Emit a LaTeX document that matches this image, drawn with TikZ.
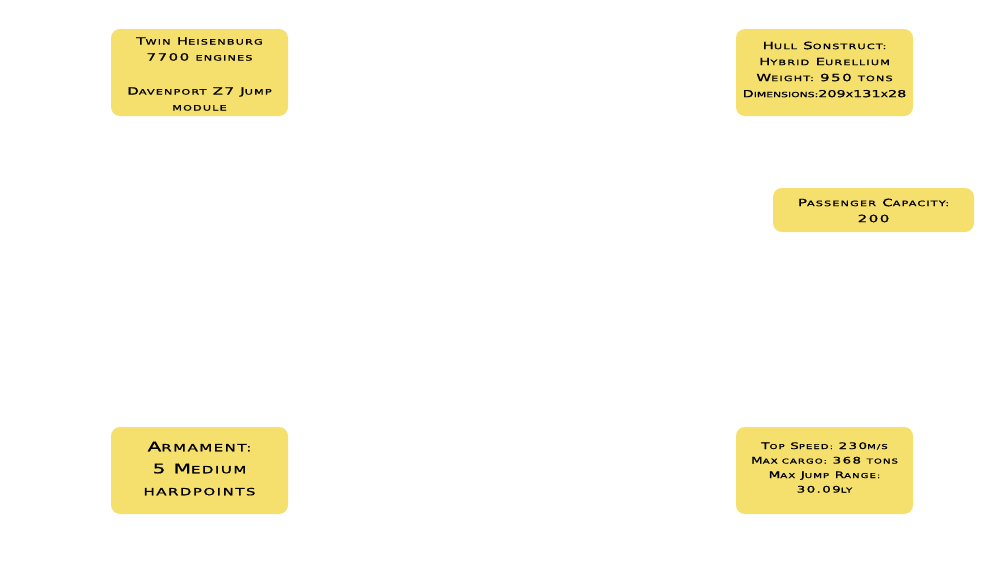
\documentclass[tikz,border=0pt]{standalone}
\usepackage{fontspec}
\newfontfamily\cfont{DejaVu Sans}[FakeStretch=1.5,FakeBold=1.2,LetterSpace=15]
\makeatletter
\newcommand\lc[1]{{\fontsize{\strip@pt\dimexpr0.75\dimexpr\f@size pt\relax\relax}{\f@baselineskip}\selectfont\MakeUppercase{#1}}}
\makeatother
\definecolor{boxyellow}{RGB}{245,224,110}
\begin{document}
\begin{tikzpicture}[x=1pt,y=-1pt,
  card/.style={fill=boxyellow, draw=none, rounded corners=9pt, inner sep=0pt},
  lbl/.style={align=center, text=black, inner sep=0pt, font=\cfont\fontsize{10}{16}\selectfont},
  lblsmall/.style={lbl, font=\cfont\fontsize{9}{14.5}\selectfont},
  lblbig/.style={lbl, font=\cfont\fontsize{13.3}{22}\selectfont}]
\useasboundingbox (0,0) rectangle (1000,563);
% boxes
\node[card, minimum width=177pt, minimum height=87pt] (b1) at (199.5,72.5) {};
\node[card, minimum width=177pt, minimum height=87pt] (b2) at (824.5,72.5) {};
\node[card, minimum width=201pt, minimum height=44pt] (b3) at (873.5,210) {};
\node[card, minimum width=177pt, minimum height=87pt] (b4) at (824.5,470.5) {};
\node[card, minimum width=177pt, minimum height=87pt] (b5) at (199.5,470.5) {};
% texts
\node[lbl] (t1) at (199.5,74) {T\lc{win} H\lc{eisenburg}\\7700 \lc{engines}\\[18pt]D\lc{avenport} Z7 J\lc{ump}\\\lc{module}};
\node[lbl] (t2) at (824.5,69.5) {H\lc{ull} S\lc{onstruct:}\\H\lc{ybrid} E\lc{urellium}\\W\lc{eight:} 950 \lc{tons}\\{\addfontfeatures{LetterSpace=0}\fontsize{9.6}{16}\selectfont D\lc{imensions:}209\lc{x}131\lc{x}28}};
\node[lbl] (t3) at (873.5,210.5) {P\lc{assenger} C\lc{apacity:}\\200};
\node[lblsmall] (t4) at (824.5,467.5) {T\lc{op} S\lc{peed:} 230\lc{m/s}\\M\lc{ax cargo:} 368 \lc{tons}\\M\lc{ax} J\lc{ump} R\lc{ange:}\\30.09\lc{ly}};
\node[lblbig] (t5) at (199.5,468.5) {A\lc{rmament:}\\5 M\lc{edium}\\\lc{hardpoints}};
\end{tikzpicture}
\end{document}
